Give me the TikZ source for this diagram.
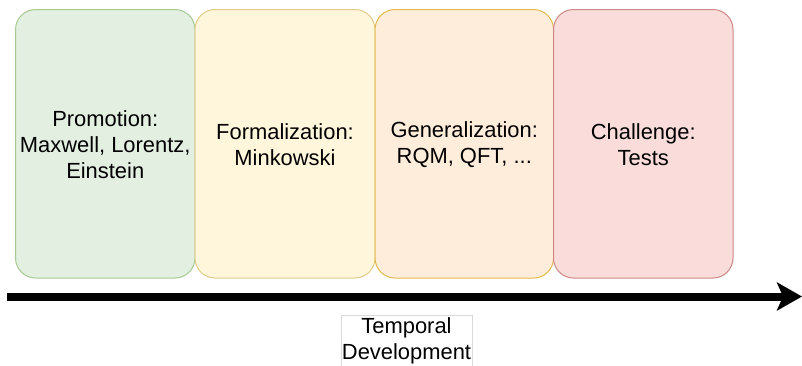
\documentclass[tikz,border=0pt]{standalone}
\usepackage{fontspec}
\setmainfont{Liberation Sans}
\usetikzlibrary{arrows.meta}
\definecolor{gF}{HTML}{D5E8D4}\definecolor{gS}{HTML}{82B366}
\definecolor{yF}{HTML}{FFF2CC}\definecolor{yS}{HTML}{D6B656}
\definecolor{oF}{HTML}{FFE6CC}\definecolor{oS}{HTML}{D79B00}
\definecolor{rF}{HTML}{F8CECC}\definecolor{rS}{HTML}{B85450}
\tikzset{
  phase/.style={rounded corners=20bp, line width=1bp},
  phasetext/.style={align=center, font=\fontsize{22}{26}\selectfont, text=black, inner sep=0pt},
}
\begin{document}
\begin{tikzpicture}[x=1bp,y=-1bp]
\useasboundingbox (0,0) rectangle (802,365);
\fill[white] (0,0) rectangle (802,365);
% boxes
\draw[phase, fill=gF!70!white, draw=gS!70!white] (15.5,9.5) rectangle (195,278);
\draw[phase, fill=yF!70!white, draw=yS!70!white] (195,9.5) rectangle (375,278);
\draw[phase, fill=oF!70!white, draw=oS!70!white] (375,9.5) rectangle (553.5,278);
\draw[phase, fill=rF!70!white, draw=rS!70!white] (553.5,9.5) rectangle (733,278);
\node[phasetext] (p1) at (105.25,145) {Promotion:\\Maxwell, Lorentz,\\Einstein};
\node[phasetext] (p2) at (285,145) {Formalization:\\Minkowski};
\node[phasetext] (p3) at (464.25,145) {Generalization:\\RQM, QFT, ...};
\node[phasetext] (p4) at (643.25,145) {Challenge:\\Tests};
% arrow
\coordinate (a0) at (7,296.5);
\coordinate (a1) at (802,296.5);
\draw[line width=8bp, -{Stealth[length=25bp, width=28bp, inset=6bp]}] (a0) -- (a1);
% label
\draw[draw=black!15, fill=white, line width=0.8bp] (341,370) -- (341,315) -- (472,315) -- (472,370);
\node[phasetext] (lab) at (406.5,341) {Temporal\\Development};
\end{tikzpicture}
\end{document}
